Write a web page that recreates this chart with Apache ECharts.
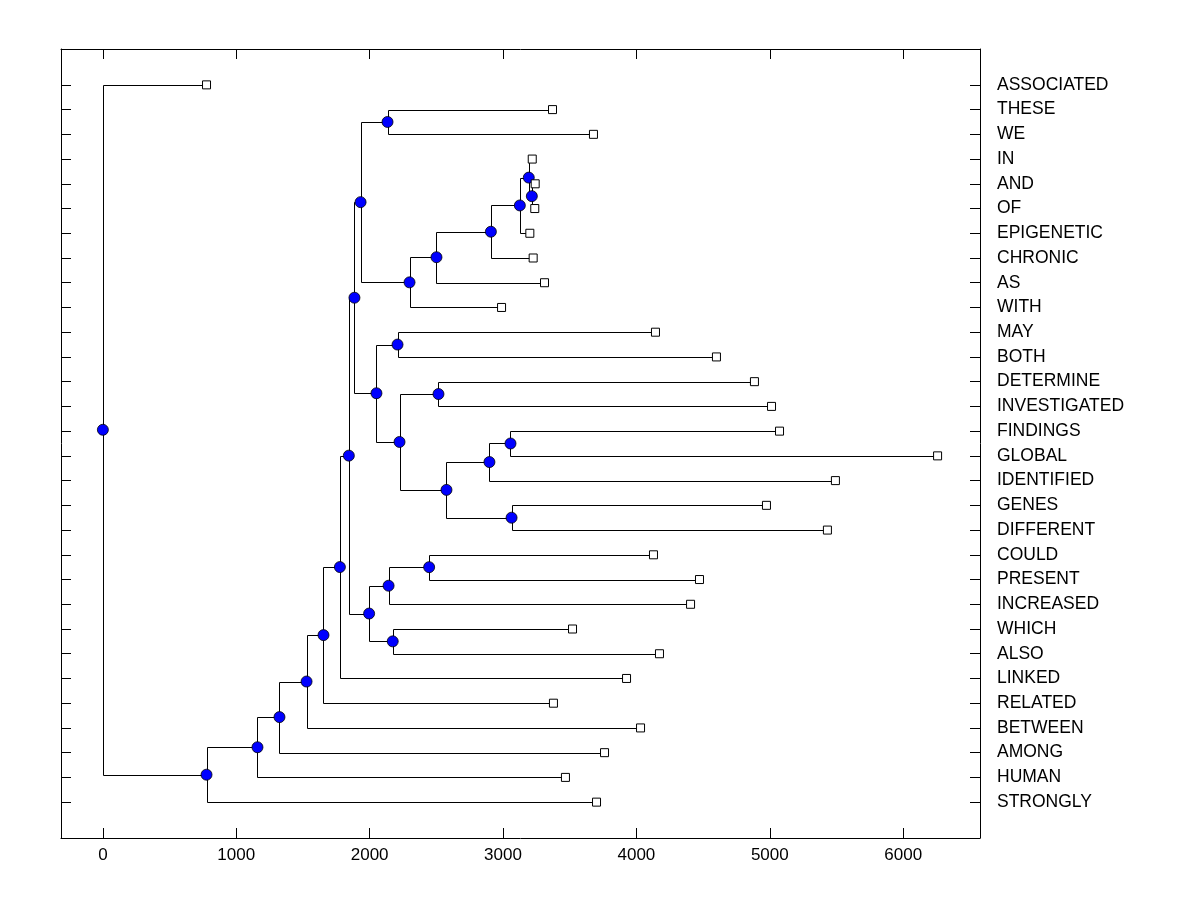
<!DOCTYPE html>
<html>
<head>
<meta charset="utf-8">
<script src="https://cdn.jsdelivr.net/npm/echarts@6.0.0/dist/echarts.min.js"></script>
<style>
  html, body { margin: 0; padding: 0; background: #fff; }
  #chart { width: 1200px; height: 900px; }
</style>
</head>
<body>
<div id="chart"></div>
<script>
// leaves, listed top to bottom
const leafNames = ['ASSOCIATED', 'THESE', 'WE', 'IN', 'AND', 'OF', 'EPIGENETIC', 'CHRONIC', 'AS', 'WITH',
  'MAY', 'BOTH', 'DETERMINE', 'INVESTIGATED', 'FINDINGS', 'GLOBAL', 'IDENTIFIED', 'GENES', 'DIFFERENT',
  'COULD', 'PRESENT', 'INCREASED', 'WHICH', 'ALSO', 'LINKED', 'RELATED', 'BETWEEN', 'AMONG', 'HUMAN', 'STRONGLY'];
const leafHeights = [777, 3371, 3678, 3219, 3241, 3238, 3201, 3226, 3311, 2989,
  4143, 4600, 4885, 5013, 5073, 6258, 5492, 4975, 5432,
  4128, 4473, 4406, 3521, 4173, 3926, 3378, 4031, 3761, 3468, 3701];

// merges (internal nodes), children are leaf names or earlier node ids
const nodeIds = ['n1', 'n2', 'n3', 'n4', 'n5', 'n6', 'n7', 'n8', 'n9', 'n10',
  'n11', 'n12', 'n13', 'n14', 'n15', 'n16', 'n17', 'n18', 'n19', 'n20',
  'n21', 'n22', 'n23', 'n24', 'n25', 'n26', 'n27', 'n28', 'n29'];
const nodeLeft = ['AND', 'IN', 'n2', 'n3', 'n4', 'n5', 'THESE', 'n7', 'MAY', 'DETERMINE',
  'FINDINGS', 'n11', 'GENES', 'n12', 'n10', 'n9', 'n8', 'COULD', 'n18', 'WHICH',
  'n19', 'n17', 'n22', 'n23', 'n24', 'n25', 'n26', 'n27', 'ASSOCIATED'];
const nodeRight = ['OF', 'n1', 'EPIGENETIC', 'CHRONIC', 'AS', 'WITH', 'WE', 'n6', 'BOTH', 'INVESTIGATED',
  'GLOBAL', 'IDENTIFIED', 'DIFFERENT', 'n13', 'n14', 'n15', 'n16', 'PRESENT', 'INCREASED', 'ALSO',
  'n20', 'n21', 'LINKED', 'RELATED', 'BETWEEN', 'AMONG', 'HUMAN', 'STRONGLY', 'n28'];
const nodeHeights = [3216, 3193, 3126, 2909, 2501, 2299, 2134, 1932, 2209, 2516,
  3056, 2898, 3064, 2576, 2224, 2051, 1886, 2446, 2142, 2173,
  1996, 1844, 1777, 1654, 1527, 1324, 1159, 777, 0];

const xTicks = [0, 1000, 2000, 3000, 4000, 5000, 6000];

// positions of every node on the value axes
const N = leafNames.length;
const pos = {};
leafNames.forEach((name, i) => { pos[name] = { h: leafHeights[i], y: N - i }; });
nodeIds.forEach((id, i) => {
  const a = pos[nodeLeft[i]], b = pos[nodeRight[i]];
  pos[id] = { h: nodeHeights[i], y: (a.y + b.y) / 2 };
});
const leafY = leafNames.map((n) => pos[n].y);

const elbowData = nodeIds.map((id, i) => {
  const a = pos[nodeLeft[i]], b = pos[nodeRight[i]];
  return [nodeHeights[i], a.y, b.y, a.h, b.h];
});
const nodeData = nodeIds.map((id) => [pos[id].h, pos[id].y]);
const leafData = leafNames.map((n) => [pos[n].h, pos[n].y]);

const snap = (p) => [Math.round(p[0]) + 0.5, Math.round(p[1]) + 0.5];

const chart = echarts.init(document.getElementById('chart'));
const font = 'Liberation Sans, Arial, sans-serif';
const black = { color: '#000', width: 1 };

chart.setOption({
  animation: false,
  backgroundColor: '#fff',
  grid: { left: 61, right: 220, top: 49, bottom: 62 },
  xAxis: [
    {
      type: 'value', position: 'bottom', min: -314, max: 6576,
      axisLine: { show: true, onZero: false, lineStyle: black },
      axisTick: { show: true, inside: true, length: 10, customValues: xTicks, lineStyle: black },
      axisLabel: {
        customValues: xTicks, color: '#000', fontSize: 17, fontFamily: font, margin: 9,
        formatter: (v) => String(v)
      },
      splitLine: { show: false }
    },
    {
      type: 'value', position: 'top', min: -314, max: 6576,
      axisLine: { show: true, onZero: false, lineStyle: black },
      axisTick: { show: true, inside: true, length: 10, customValues: xTicks, lineStyle: black },
      axisLabel: { show: false },
      splitLine: { show: false }
    }
  ],
  yAxis: [
    {
      type: 'value', position: 'left', min: -0.45, max: 31.45,
      axisLine: { show: true, onZero: false, lineStyle: black },
      axisTick: { show: true, inside: true, length: 10, customValues: leafY, lineStyle: black },
      axisLabel: { show: false },
      splitLine: { show: false }
    },
    {
      type: 'value', position: 'right', min: -0.45, max: 31.45,
      axisLine: { show: true, onZero: false, lineStyle: black },
      axisTick: { show: true, inside: true, length: 10, customValues: leafY, lineStyle: black },
      axisLabel: {
        customValues: leafY, color: '#000', fontSize: 17.5, fontFamily: font, margin: 17,
        formatter: (v) => leafNames[N - Math.round(v)]
      },
      splitLine: { show: false }
    }
  ],
  series: [
    {
      type: 'custom',
      data: elbowData,
      encode: { x: [0, 3, 4], y: [1, 2] },
      renderItem: (params, api) => {
        const h = api.value(0), ya = api.value(1), yb = api.value(2);
        const ha = api.value(3), hb = api.value(4);
        return {
          type: 'polyline',
          shape: { points: [snap(api.coord([ha, ya])), snap(api.coord([h, ya])),
            snap(api.coord([h, yb])), snap(api.coord([hb, yb]))] },
          style: { stroke: '#000', lineWidth: 1, fill: null }
        };
      },
      z: 1
    },
    {
      type: 'scatter',
      data: nodeData,
      symbol: 'circle',
      symbolSize: 11,
      itemStyle: { color: '#0000ff', borderColor: '#000', borderWidth: 0.8, opacity: 1 },
      z: 3
    },
    {
      type: 'scatter',
      data: leafData,
      symbol: 'rect',
      symbolSize: 8,
      itemStyle: { color: '#fff', borderColor: '#000', borderWidth: 1, opacity: 1 },
      z: 4
    }
  ]
});
</script>
</body>
</html>
